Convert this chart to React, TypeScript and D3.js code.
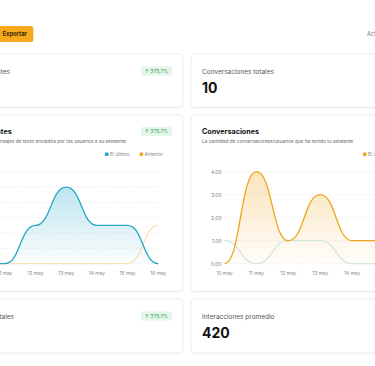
import React from "react";
import * as d3 from "d3";

const dates = ["10 may", "11 may", "12 may", "13 may", "14 may", "15 may", "16 may"];
const mensajesUltimo = [0, 0, 5, 10, 5, 5, 0];
const mensajesAnterior = [0, 0, 0, 0, 0, 0, 5];
const mensajesTicks = [0, 2, 4, 6, 8, 10, 12];
const convUltimo = [0, 4, 1, 3, 1, 1, 1];
const convAnterior = [1, 0, 1, 1, 0, 0, 0];
const convTicks = [0, 1, 2, 3, 4];
const legendLabels = ["El último", "Anterior"];
const badgeText = "↑ 375.7%";

const FONT = "Inter, 'Noto Sans', sans-serif";
const PLOT_TOP = 171.7;
const PLOT_BOTTOM = 263.7;

type ChartProps = {
  id: string;
  cardX: number;
  x0: number;
  x1: number;
  ultimo: number[];
  anterior: number[];
  ticks: number[];
  mainColor: string;
  prevColor: string;
  legendMain: string;
  legendPrev: string;
  title: string;
  subtitle: string;
  titleEnd?: number;
  subtitleEnd?: number;
  badge: boolean;
};

function Card({ x, y, w, h }: { x: number; y: number; w: number; h: number }) {
  return (
    <rect x={x} y={y} width={w} height={h} rx={4} fill="#fff" stroke="#e9e9e9" strokeWidth={0.8} filter="url(#shadow)" />
  );
}

function Badge({ x, y }: { x: number; y: number }) {
  return (
    <g>
      <rect x={x} y={y} width={31} height={9} rx={1.5} fill="#e4f6e9" />
      <text x={x + 15.5} y={y + 6.3} fontSize={5} fill="#3f9c5b" textAnchor="middle" fontFamily={FONT}>
        {badgeText}
      </text>
    </g>
  );
}

function Chart(p: ChartProps) {
  const x = d3.scalePoint<string>().domain(dates).range([p.x0, p.x1]);
  const y = d3.scaleLinear().domain([0, d3.max(p.ticks) as number]).range([PLOT_BOTTOM, PLOT_TOP]);
  const pts = (vals: number[]) => vals.map((v, i) => [x(dates[i]) as number, y(v)] as [number, number]);
  const line = d3.line<[number, number]>().curve(d3.curveBumpX);
  const area = d3
    .area<[number, number]>()
    .curve(d3.curveBumpX)
    .x((d) => d[0])
    .y0(PLOT_BOTTOM)
    .y1((d) => d[1]);
  const fmt = d3.format(".2f");
  const W = 250;
  const cardRight = p.cardX + W;
  const legendX = cardRight - 76.3;
  return (
    <g>
      <defs>
        <linearGradient id={p.id + "g"} x1="0" y1="0" x2="0" y2="1">
          <stop offset="0%" stopColor={p.mainColor} stopOpacity={0.3} />
          <stop offset="100%" stopColor={p.mainColor} stopOpacity={0.02} />
        </linearGradient>
      </defs>
      <Card x={p.cardX} y={115} w={W} h={176.5} />
      <text
        x={p.titleEnd ?? p.cardX + 11}
        y={134.3}
        textAnchor={p.titleEnd !== undefined ? "end" : "start"}
        fontSize={7.2}
        fontWeight={700}
        fill="#111"
        fontFamily={FONT}
      >
        {p.title}
      </text>
      <text
        x={p.subtitleEnd ?? p.cardX + 11}
        y={142.8}
        textAnchor={p.subtitleEnd !== undefined ? "end" : "start"}
        fontSize={4.8}
        fill="#666"
        fontFamily={FONT}
      >
        {p.subtitle}
      </text>
      {p.badge && <Badge x={cardRight - 42} y={127} />}
      <g fontFamily={FONT} fontSize={4.9} fill="#888">
        <circle cx={legendX} cy={154.3} r={2} fill={p.mainColor} />
        <text x={legendX + 3.2} y={156}>{p.legendMain}</text>
        <circle cx={legendX + 34.6} cy={154.3} r={2} fill="#f5a623" />
        <text x={legendX + 37.8} y={156}>{p.legendPrev}</text>
      </g>
      {p.ticks.map((t) => (
        <g key={t}>
          <line
            x1={p.x0 + 1}
            x2={p.x1 + 1}
            y1={y(t)}
            y2={y(t)}
            stroke="#e6e6e6"
            strokeWidth={0.6}
            strokeDasharray="2 1.5"
          />
          <text x={p.x0 - 3} y={y(t) + 1.8} textAnchor="end" fontSize={4.9} fill="#777" fontFamily={FONT}>
            {fmt(t)}
          </text>
        </g>
      ))}
      {dates.map((d) => (
        <text key={d} x={x(d)} y={275} textAnchor="middle" fontSize={4.9} fill="#888" fontFamily={FONT}>
          {d}
        </text>
      ))}
      <path d={area(pts(p.ultimo)) || ""} fill={`url(#${p.id}g)`} />
      <path d={line(pts(p.anterior)) || ""} fill="none" stroke={p.prevColor} strokeWidth={1.3} />
      <path d={line(pts(p.ultimo)) || ""} fill="none" stroke={p.mainColor} strokeWidth={1.3} />
    </g>
  );
}

export default function App() {
  return (
    <svg
      width={375}
      height={366}
      style={{ position: "fixed", left: 0, top: 0, background: "#fff" }}
      fontFamily={FONT}
    >
      <defs>
        <filter id="shadow" x="-5%" y="-5%" width="110%" height="115%">
          <feDropShadow dx={0} dy={0.5} stdDeviation={0.6} floodColor="#000" floodOpacity={0.05} />
        </filter>
      </defs>
      <rect width={375} height={366} fill="#fff" />
      {/* header */}
      <rect x={-30} y={26} width={63.3} height={16} rx={2.5} fill="#f7a81b" />
      <text x={2.5} y={36.1} fontSize={5.8} fontWeight={700} fill="#3b2a06">
        Exportar
      </text>
      <text x={367} y={36} fontSize={5.5} fill="#777">
        Actualizar
      </text>

      {/* top cards */}
      <Card x={-67} y={54} w={250} h={53.5} />
      <text x={10} y={73.5} textAnchor="end" fontSize={6.5} fill="#555">
        Mensajes entrantes
      </text>
      <text x={-56} y={93.3} fontSize={14} fontWeight={700} fill="#111">
        176
      </text>
      <Badge x={141} y={66.5} />
      <Card x={191} y={54} w={250} h={53.5} />
      <text x={202} y={73.5} fontSize={6.5} fill="#555">
        Conversaciones totales
      </text>
      <text x={202} y={93.3} fontSize={14} fontWeight={700} fill="#111">
        10
      </text>

      <Chart
        id="msg"
        cardX={-67}
        x0={-25.9}
        x1={158.3}
        ultimo={mensajesUltimo}
        anterior={mensajesAnterior}
        ticks={mensajesTicks}
        mainColor="#27a6c7"
        prevColor="#f9e1bb"
        legendMain={legendLabels[0]}
        legendPrev={legendLabels[1]}
        title="Mensajes entrantes"
        subtitle="La cantidad de mensajes de texto enviados por los usuarios a su asistente"
        titleEnd={11.7}
        subtitleEnd={126}
        badge={true}
      />
      <Chart
        id="conv"
        cardX={191}
        x0={224.5}
        x1={415.9}
        ultimo={convUltimo}
        anterior={convAnterior}
        ticks={convTicks}
        mainColor="#f0a51c"
        prevColor="#d2e7db"
        legendMain={legendLabels[0]}
        legendPrev={legendLabels[1]}
        title="Conversaciones"
        subtitle="La cantidad de conversaciones/usuarios que ha tenido tu asistente"
        badge={true}
      />

      {/* bottom cards */}
      <Card x={-67} y={299} w={250} h={54} />
      <text x={14} y={318.5} textAnchor="end" fontSize={6.5} fill="#555">
        Interacciones totales
      </text>
      <Badge x={141} y={311.5} />
      <Card x={191} y={299} w={250} h={54} />
      <text x={202} y={318.5} fontSize={6.5} fill="#555">
        Interacciones promedio
      </text>
      <text x={202} y={338.3} fontSize={14} fontWeight={700} fill="#111">
        420
      </text>
    </svg>
  );
}
